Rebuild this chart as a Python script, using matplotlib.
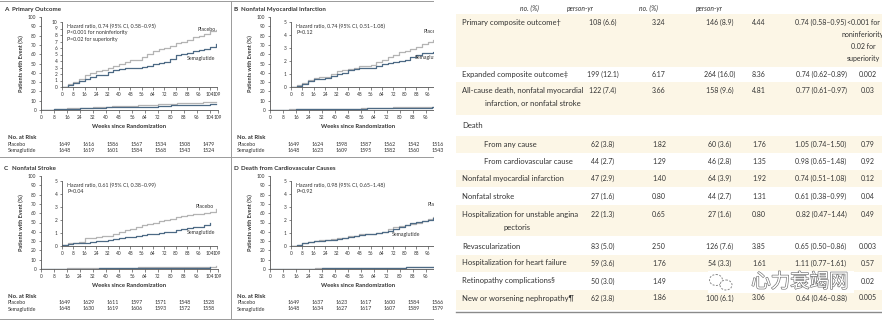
import numpy as np
import matplotlib
matplotlib.use("Agg")
import matplotlib.pyplot as plt
from matplotlib.patches import Rectangle, Ellipse
import matplotlib.patheffects as pe

plt.rcParams['font.family'] = ['Lato', 'DejaVu Sans']

W, H = 882, 322

# Kaplan-Meier curves, cumulative incidence (%) every 4 weeks
weeks = list(range(0, 112, 4))

primary_placebo = [0, 0.4, 0.8, 1.3, 1.8, 2.2, 2.5, 2.6, 3.0, 3.3, 3.6, 3.8, 4.1, 4.2,
                   4.6, 5.1, 5.5, 5.8, 6.0, 6.3, 6.7, 7.0, 7.3, 7.7, 7.9, 8.2, 8.6, 8.8]
primary_sema = [0, 0.3, 0.6, 1.0, 1.3, 1.6, 1.8, 1.9, 2.3, 2.6, 2.7, 2.9, 3.0, 3.0,
                3.1, 3.3, 3.5, 3.7, 3.9, 4.3, 4.9, 5.1, 5.3, 5.6, 5.7, 5.9, 6.2, 6.6]

mi_placebo = [0, 0.15, 0.3, 0.55, 0.7, 0.75, 0.8, 1.0, 1.2, 1.3, 1.4, 1.5, 1.6, 1.6,
              1.7, 1.9, 2.1, 2.3, 2.5, 2.7, 2.8, 2.9, 3.1, 3.3, 3.5, 3.6, 3.8, 3.9]
mi_sema = [0, 0.1, 0.25, 0.45, 0.6, 0.65, 0.7, 0.85, 1.0, 1.1, 1.3, 1.4, 1.45, 1.5,
           1.5, 1.65, 1.8, 1.85, 1.9, 2.0, 2.1, 2.3, 2.5, 2.6, 2.65, 2.7, 2.75, 2.8]

stroke_placebo = [0.1, 0.2, 0.25, 0.3, 0.6, 0.65, 0.7, 0.75, 0.8, 0.95, 1.1, 1.2, 1.3, 1.45,
                  1.6, 1.7, 1.8, 1.9, 2.0, 2.1, 2.2, 2.3, 2.35, 2.45, 2.5, 2.55, 2.65, 2.85]
stroke_sema = [0.1, 0.15, 0.2, 0.2, 0.25, 0.3, 0.35, 0.4, 0.45, 0.55, 0.65, 0.7, 0.7, 0.8,
               0.85, 0.9, 0.95, 1.0, 1.05, 1.1, 1.2, 1.3, 1.35, 1.45, 1.5, 1.6, 1.75]

cvdeath_placebo = [0, 0.1, 0.2, 0.3, 0.4, 0.45, 0.5, 0.55, 0.6, 0.65, 0.75, 0.8, 0.9, 0.92,
                   0.95, 1.0, 1.1, 1.3, 1.45, 1.55, 1.6, 1.7, 1.8, 1.9, 2.05, 2.2, 2.35, 2.5]
cvdeath_sema = [0, 0.1, 0.2, 0.3, 0.35, 0.4, 0.45, 0.5, 0.55, 0.65, 0.7, 0.8, 0.85, 0.9,
                0.95, 1.0, 1.05, 1.15, 1.3, 1.45, 1.6, 1.75, 1.85, 1.95, 2.0, 2.15, 2.35, 2.55]

risk_placebo = [
    [1649, 1616, 1586, 1567, 1534, 1508, 1479],
    [1649, 1624, 1598, 1587, 1562, 1542, 1516],
    [1649, 1629, 1611, 1597, 1571, 1548, 1528],
    [1649, 1637, 1623, 1617, 1600, 1584, 1566],
]
risk_sema = [
    [1648, 1619, 1601, 1584, 1568, 1543, 1524],
    [1648, 1623, 1609, 1595, 1582, 1560, 1543],
    [1648, 1630, 1619, 1606, 1593, 1572, 1558],
    [1648, 1634, 1627, 1617, 1607, 1589, 1579],
]

titles = ["Primary Outcome", "Nonfatal Myocardial Infarction",
          "Nonfatal Stroke", "Death from Cardiovascular Causes"]
letters = ["A", "B", "C", "D"]
stats = [
    ["Hazard ratio, 0.74 (95% CI, 0.58\u20130.95)", "P<0.001 for noninferiority",
     "P=0.02 for superiority"],
    ["Hazard ratio, 0.74 (95% CI, 0.51\u20131.08)", "P=0.12"],
    ["Hazard ratio, 0.61 (95% CI, 0.38\u20130.99)", "P=0.04"],
    ["Hazard ratio, 0.98 (95% CI, 0.65\u20131.48)", "P=0.92"],
]
inset_top = [10, 5, 5, 5]
curves = [(primary_placebo, primary_sema), (mi_placebo, mi_sema),
          (stroke_placebo, stroke_sema), (cvdeath_placebo, cvdeath_sema)]

# table of outcomes
row_labels = ["Primary composite outcome\u2020", "Expanded composite outcome\u2021",
              "All-cause death, nonfatal myocardial", "Death", "From any cause",
              "From cardiovascular cause", "Nonfatal myocardial infarction",
              "Nonfatal stroke", "Hospitalization for unstable angina",
              "Revascularization", "Hospitalization for heart failure",
              "Retinopathy complications\u00a7", "New or worsening nephropathy\u00b6"]
row_cont = ["", "", "infarction, or nonfatal stroke", "", "", "", "", "",
            "pectoris", "", "", "", ""]
sema_events = ["108 (6.6)", "199 (12.1)", "122 (7.4)", "", "62 (3.8)", "44 (2.7)",
               "47 (2.9)", "27 (1.6)", "22 (1.3)", "83 (5.0)", "59 (3.6)", "50 (3.0)", "62 (3.8)"]
sema_rate = ["3.24", "6.17", "3.66", "", "1.82", "1.29", "1.40", "0.80", "0.65", "2.50",
             "1.76", "1.49", "1.86"]
plac_events = ["146 (8.9)", "264 (16.0)", "158 (9.6)", "", "60 (3.6)", "46 (2.8)",
               "64 (3.9)", "44 (2.7)", "27 (1.6)", "126 (7.6)", "54 (3.3)", "29 (1.8)", "100 (6.1)"]
plac_rate = ["4.44", "8.36", "4.81", "", "1.76", "1.35", "1.92", "1.31", "0.80", "3.85",
             "1.61", "0.86", "3.06"]
hazard = ["0.74 (0.58\u20130.95)", "0.74 (0.62\u20130.89)", "0.77 (0.61\u20130.97)", "",
          "1.05 (0.74\u20131.50)", "0.98 (0.65\u20131.48)", "0.74 (0.51\u20131.08)",
          "0.61 (0.38\u20130.99)", "0.82 (0.47\u20131.44)", "0.65 (0.50\u20130.86)",
          "1.11 (0.77\u20131.61)", "1.76 (1.11\u20132.78)", "0.64 (0.46\u20130.88)"]
pvals = ["<0.001 for\nnoninferiority\n0.02 for\nsuperiority", "0.002", "0.03", "", "0.79",
         "0.92", "0.12", "0.04", "0.49", "0.003", "0.57", "0.02", "0.005"]
headers = ["no. (%)", "person-yr", "no. (%)", "person-yr"]

PLACEBO = '#b4b4b4'
SEMA = '#4d6a85'
AXC = '#555555'
TXT = '#333333'

fig = plt.figure(figsize=(W / 100, H / 100), dpi=100)


def px_axes(x0, y0, x1, y1, **kw):
    return fig.add_axes([x0 / W, 1 - y1 / H, (x1 - x0) / W, (y1 - y0) / H], **kw)


def style(ax, fs):
    for s in ['top', 'right']:
        ax.spines[s].set_visible(False)
    for s in ['left', 'bottom']:
        ax.spines[s].set_color(AXC)
        ax.spines[s].set_linewidth(0.6)
    ax.tick_params(length=1.8, width=0.5, color=AXC, labelsize=fs, labelcolor=TXT, pad=1.5)


xt = list(range(0, 105, 8)) + [109]
offsets = [(0, 0), (229, 0), (0, 159), (229, 159)]
for k in range(4):
    dx, dy = offsets[k]
    pl, se = curves[k]
    ax = px_axes(41 + dx, 17 + dy, 218 + dx, 110 + dy)
    style(ax, 3.4)
    ax.set_xlim(0, 109)
    ax.set_ylim(0, 100)
    ax.set_xticks(xt)
    ax.set_yticks(range(0, 101, 10))
    ax.plot(weeks[:len(pl)], pl, color=PLACEBO, lw=0.9, drawstyle='steps-post')
    ax.plot(weeks[:len(se)], se, color=SEMA, lw=0.9, drawstyle='steps-post')
    ax.set_xlabel("Weeks since Randomization", fontsize=4.2, fontweight='bold',
                  color=TXT, labelpad=3)
    ax.set_ylabel("Patients with Event (%)", fontsize=4.0, fontweight='bold',
                  color=TXT, labelpad=3)

    ins = px_axes(62 + dx, 22 + dy, 217 + dx, 87 + dy)
    ins.patch.set_alpha(0)
    style(ins, 3.4)
    ins.set_xlim(0, 109)
    ins.set_ylim(0, inset_top[k])
    ins.set_xticks(xt)
    ins.set_yticks(range(0, inset_top[k] + 1))
    ins.plot(weeks[:len(pl)], pl, color=PLACEBO, lw=0.9, drawstyle='steps-post')
    ins.plot(weeks[:len(se)], se, color=SEMA, lw=0.9, drawstyle='steps-post')
    for i, line in enumerate(stats[k]):
        ins.text(0.035, 0.98 - i * 0.108, line, transform=ins.transAxes, fontsize=3.8,
                 color=TXT, va='top')
    if k == 0:
        ins.text(108, 8.6, "Placebo", fontsize=3.8, color=TXT, ha='right')
        ins.text(108, 4.2, "Semaglutide", fontsize=3.8, color=TXT, ha='right')
    elif k == 1:
        ins.text(93, 4.15, "Placebo", fontsize=3.8, color=TXT)
        ins.text(87, 2.15, "Semaglutide", fontsize=3.8, color=TXT)
    elif k == 2:
        ins.text(107, 2.95, "Placebo", fontsize=3.8, color=TXT, ha='right')
        ins.text(108, 0.9, "Semaglutide", fontsize=3.8, color=TXT, ha='right')
    else:
        ins.text(96, 3.1, "Placebo", fontsize=3.8, color=TXT)
        ins.text(71, 0.75, "Semaglutide", fontsize=3.8, color=TXT)

# overlay in pixel coordinates for text, frames and the table
cv = fig.add_axes([0, 0, 1, 1], zorder=10)
cv.set_xlim(0, W)
cv.set_ylim(H, 0)
cv.axis('off')

for k in range(4):
    dx, dy = offsets[k]
    cv.text(4 + dx, 9 + dy, letters[k], fontsize=4.6, fontweight='bold', color=TXT, va='center')
    cv.text(12 + dx, 9 + dy, titles[k], fontsize=4.4, fontweight='bold', color=TXT, va='center')
    cv.text(8 + dx, 137 + dy, "No. at Risk", fontsize=4.2, fontweight='bold', color=TXT,
            va='center')
    cv.text(8 + dx, 144 + dy, "Placebo", fontsize=3.8, color=TXT, va='center')
    cv.text(8 + dx, 150 + dy, "Semaglutide", fontsize=3.8, color=TXT, va='center')
    for i in range(7):
        cv.text(59 + 24 * i + dx, 144 + dy, str(risk_placebo[k][i]), fontsize=3.8,
                color=TXT, va='center')
        cv.text(59 + 24 * i + dx, 150 + dy, str(risk_sema[k][i]), fontsize=3.8,
                color=TXT, va='center')

# panel frame lines
fc = '#9a9a9a'
cv.plot([0, 434], [1, 1], color=fc, lw=0.7)
cv.plot([0, 434], [157, 157], color=fc, lw=0.7)
cv.plot([0, 434], [319, 319], color=fc, lw=0.7)
cv.plot([231, 231], [1, 319], color=fc, lw=0.7)

# table area
cv.add_patch(Rectangle((434, 0), W - 434, H, facecolor='white', edgecolor='none', zorder=2))
CREAM = '#fcf6e6'
row_y = [22, 74, 90, 125, 144, 161, 178, 196, 214, 246, 263, 281, 298]
bands = [(14, 67), (82, 115), (136, 153), (170, 187), (205, 236), (255, 272), (290, 310)]
for y0, y1 in bands:
    cv.add_patch(Rectangle((456, y0), W - 456, y1 - y0, facecolor=CREAM, edgecolor='none',
                           zorder=2.5))
cv.plot([456, W], [312, 312], color='#8a8a8a', lw=1.0, zorder=3)

fs = 5.5
fn = 5.0
hx = [529, 580, 648, 709]
for x, h in zip(hx, headers):
    cv.text(x, 8, h, fontsize=4.9, style='italic', color=TXT, ha='center', va='center', zorder=4)

cols = [603, 659, 720, 759, 821, 868]
indented = {4, 5}
for i, lab in enumerate(row_labels):
    y = row_y[i]
    x = 484 if i in indented else 462
    cv.text(x, y, lab, fontsize=fs, color=TXT, va='center', zorder=4)
    if row_cont[i]:
        cx = 504 if i == 8 else 485
        cv.text(cx, y + 13, row_cont[i], fontsize=fs, color=TXT, va='center', zorder=4)
    vals = [sema_events[i], sema_rate[i], plac_events[i], plac_rate[i], hazard[i]]
    for x, v in zip(cols, vals):
        cv.text(x, y, v, fontsize=fn, color=TXT, ha='center', va='center', zorder=4)
    if i == 0:
        for j, line in enumerate(pvals[0].split("\n")):
            cv.text(863, y + 12 * j, line, fontsize=fn, color=TXT, ha='center',
                    va='center', zorder=4)
    else:
        cv.text(cols[5], y, pvals[i], fontsize=fn, color=TXT, ha='center', va='center',
                zorder=4)

# watermark
cv.add_patch(Rectangle((708, 271), 146, 22, facecolor='white', edgecolor='none',
                       zorder=5))
cv.add_patch(Ellipse((716, 280), 13, 11, facecolor='none', edgecolor='#8a8a8a', lw=0.7,
                     ls=(0, (2, 1.5)), zorder=6))
cv.add_patch(Ellipse((726, 285), 12, 10, facecolor='white', edgecolor='#8a8a8a', lw=0.7,
                     ls=(0, (2, 1.5)), zorder=6))
cv.text(800, 282, "\u5fc3\u529b\u8870\u7aed\u7f51", fontsize=14,
        family=['Noto Sans CJK SC', 'DejaVu Sans'], color='white', ha='center', va='center',
        zorder=7, path_effects=[pe.Stroke(linewidth=0.9, foreground='#6e6e6e'), pe.Normal()])

fig.savefig("out.png", dpi=100)
